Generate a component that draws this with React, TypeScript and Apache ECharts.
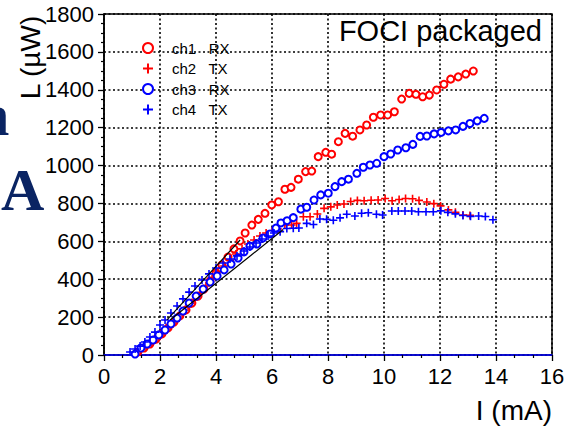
import React, { useEffect, useRef } from "react";
import * as echarts from "echarts";

// ---- data (I in mA, L in µW) ----
const ch1RX: [number, number][] = [
  [1.21, 16], [1.43, 37], [1.64, 58], [1.86, 84], [2.07, 111], [2.29, 143], [2.5, 174], [2.71, 206],
  [2.93, 238], [3.14, 274], [3.36, 311], [3.57, 348], [3.79, 391], [4.0, 433], [4.21, 475], [4.43, 517],
  [4.64, 560], [4.86, 602], [5.04, 644], [5.28, 686], [5.51, 716], [5.75, 748], [5.99, 792], [6.23, 809],
  [6.46, 875], [6.68, 885], [6.94, 928], [7.2, 968], [7.42, 971], [7.65, 1047], [7.92, 1070], [8.13, 1060],
  [8.37, 1126], [8.61, 1170], [8.88, 1155], [9.14, 1188], [9.38, 1214], [9.62, 1255], [9.88, 1267],
  [10.13, 1267], [10.37, 1284], [10.63, 1351], [10.9, 1381], [11.14, 1376], [11.38, 1363], [11.62, 1372],
  [11.88, 1399], [12.14, 1429], [12.38, 1456], [12.65, 1468], [12.92, 1483], [13.19, 1499],
];

const ch2TX: [number, number][] = [
  [1.29, 21], [1.5, 42], [1.71, 63], [1.93, 90], [2.14, 116], [2.36, 148], [2.57, 179], [2.79, 216],
  [3.0, 253], [3.21, 290], [3.43, 327], [3.64, 364], [3.86, 401], [4.07, 438], [4.29, 470], [4.5, 501],
  [4.71, 533], [4.93, 560], [5.14, 586], [5.36, 607], [5.57, 628], [5.79, 644], [6.0, 655], [6.21, 665],
  [6.46, 686], [6.7, 686], [6.88, 695], [7.12, 730], [7.36, 730], [7.62, 744], [7.86, 774], [8.1, 782],
  [8.33, 792], [8.57, 797], [8.81, 810], [9.05, 816], [9.29, 814], [9.54, 817], [9.79, 818], [10.04, 826],
  [10.29, 814], [10.54, 821], [10.77, 826], [11.02, 825], [11.25, 816], [11.53, 808], [11.78, 799],
  [12.02, 787], [12.3, 766], [12.55, 753], [12.82, 739], [13.07, 737],
];

const ch3RX: [number, number][] = [
  [1.11, 5], [1.32, 37], [1.54, 58], [1.75, 79], [1.96, 106], [2.18, 132], [2.39, 164], [2.61, 195],
  [2.82, 232], [3.04, 274], [3.29, 311], [3.54, 348], [3.79, 385], [4.04, 417], [4.29, 449], [4.54, 480],
  [4.79, 512], [5.0, 544], [5.21, 575], [5.46, 586], [5.68, 618], [5.93, 639], [6.14, 670], [6.32, 697],
  [6.54, 709], [6.76, 725], [7.03, 770], [7.24, 780], [7.5, 818], [7.74, 845], [8.01, 854], [8.25, 889],
  [8.49, 915], [8.73, 928], [9.03, 959], [9.26, 991], [9.5, 1003], [9.74, 1012], [10.0, 1047],
  [10.24, 1061], [10.49, 1082], [10.78, 1094], [11.03, 1112], [11.29, 1154], [11.53, 1156], [11.79, 1167],
  [12.04, 1175], [12.3, 1183], [12.56, 1188], [12.82, 1207], [13.07, 1222], [13.33, 1236], [13.58, 1249],
];

const ch4TX: [number, number][] = [
  [0.93, 16], [1.11, 32], [1.29, 47], [1.46, 69], [1.64, 95], [1.82, 121], [2.0, 158], [2.18, 185],
  [2.39, 222], [2.61, 259], [2.82, 296], [3.04, 332], [3.25, 364], [3.5, 396], [3.75, 428], [4.0, 459],
  [4.25, 486], [4.5, 507], [4.75, 523], [5.0, 549], [5.21, 570], [5.43, 591], [5.64, 612], [5.86, 628],
  [6.07, 644], [6.29, 651], [6.53, 668], [6.76, 669], [6.96, 670], [7.24, 695], [7.48, 689], [7.71, 718],
  [7.95, 716], [8.19, 711], [8.43, 724], [8.67, 743], [8.96, 734], [9.2, 748], [9.44, 751], [9.73, 743],
  [9.95, 739], [10.28, 760], [10.51, 760], [10.75, 760], [10.99, 760], [11.23, 756], [11.5, 756],
  [11.76, 756], [12.03, 761], [12.28, 753], [12.55, 745], [12.82, 736], [13.09, 732], [13.38, 734],
  [13.62, 731], [13.89, 714],
];

const fitA: [number, number][] = [[2.25, 185], [4.86, 607]];
const fitB: [number, number][] = [[2.36, 185], [6.4, 662]];

const seriesNames = ["ch1   RX", "ch2   TX", "ch3   RX", "ch4   TX"];
const xTicks = { min: 0, max: 16, interval: 2 };
const yTicks = { min: 0, max: 1800, interval: 200 };

const RED = "#ff0000";
const BLUE = "#0000ff";
const NAVY = "#0a2463";
const FONT = "'Liberation Sans', Arial, Helvetica, sans-serif";
const PLUS = "path://M4,0h2v4h4v2h-4v4h-2v-4h-4v-2h4z";

export default function App() {
  const ref = useRef<HTMLDivElement>(null);
  useEffect(() => {
    if (!ref.current) return;
    const chart = echarts.init(ref.current, undefined, { renderer: "svg" });
    const grid = {
      color: "#000",
      type: [2, 2.5] as number[],
      width: 1.6,
    };
    const circleSeries = (name: string, data: [number, number][], color: string) => ({
      name,
      type: "scatter",
      data,
      symbol: "emptyCircle",
      symbolSize: 7,
      itemStyle: { color, borderColor: color, borderWidth: 1.5, opacity: 1 },
      z: 3,
    });
    const plusSeries = (name: string, data: [number, number][], color: string) => ({
      name,
      type: "scatter",
      data,
      symbol: PLUS,
      symbolSize: 8,
      itemStyle: { color, opacity: 1 },
      z: 3,
    });
    const fitSeries = (data: [number, number][]) => ({
      type: "line",
      data,
      showSymbol: false,
      symbol: "none",
      lineStyle: { color: "#000", width: 1.2 },
      z: 5,
      silent: true,
    });
    const plain = (v: number) => String(v);
    chart.setOption({
      animation: false,
      backgroundColor: "#fff",
      textStyle: { fontFamily: FONT },
      grid: {
        left: 104,
        right: 20,
        top: 14,
        bottom: 75,
        show: true,
        borderColor: "#000",
        borderWidth: 1.5,
        backgroundColor: "transparent",
      },
      legend: {
        data: seriesNames,
        orient: "vertical",
        left: 137,
        top: 35,
        itemWidth: 38,
        itemHeight: 10,
        itemGap: 4.5,
        textStyle: { fontSize: 15, color: "#000", fontFamily: FONT, lineHeight: 16 },
        selectedMode: false,
      },
      xAxis: {
        type: "value",
        ...xTicks,
        axisLine: { show: true, onZero: false, lineStyle: { color: BLUE, width: 1.5 } },
        axisTick: { show: true, inside: false, length: 6, lineStyle: { color: "#000", width: 1.3 } },
        minorTick: { show: true, splitNumber: 3, length: 3, lineStyle: { color: "#000", width: 1.2 } },
        axisLabel: { fontSize: 22, color: "#000", margin: 10, fontFamily: FONT, showMaxLabel: true, showMinLabel: true, formatter: plain },
        splitLine: { show: true, lineStyle: grid },
      },
      yAxis: {
        type: "value",
        ...yTicks,
        axisLine: { show: true, onZero: false, lineStyle: { color: "#000", width: 1.5 } },
        axisTick: { show: true, inside: false, length: 6, lineStyle: { color: "#000", width: 1.3 } },
        minorTick: { show: true, splitNumber: 4, length: 3, lineStyle: { color: "#000", width: 1.2 } },
        axisLabel: { fontSize: 22, color: "#000", margin: 10, fontFamily: FONT, showMaxLabel: true, showMinLabel: true, formatter: plain },
        splitLine: { show: true, lineStyle: grid },
      },
      series: [
        circleSeries(seriesNames[0], ch1RX, RED),
        plusSeries(seriesNames[1], ch2TX, RED),
        circleSeries(seriesNames[2], ch3RX, BLUE),
        plusSeries(seriesNames[3], ch4TX, BLUE),
        fitSeries(fitA),
        fitSeries(fitB),
      ],
      graphic: [
        {
          type: "text",
          x: 542,
          y: 30.5,
          style: { text: "FOCI packaged", fontSize: 29, fontFamily: FONT, fill: "#000", align: "right", verticalAlign: "middle" },
          z: 10,
        },
        {
          type: "text",
          x: 30,
          y: 57.5,
          rotation: Math.PI / 2,
          style: { text: "L (µW)", fontSize: 28, fontFamily: FONT, fill: "#000", align: "center", verticalAlign: "middle" },
        },
        {
          type: "text",
          x: 552,
          y: 410,
          style: { text: "I (mA)", fontSize: 28, fontFamily: FONT, fill: "#000", align: "right", verticalAlign: "middle" },
        },
        {
          type: "text",
          x: 1,
          y: 190,
          style: { text: "A", fontSize: 60, fontWeight: "bold", fontFamily: "'Liberation Serif', 'Times New Roman', serif", fill: NAVY, align: "left", verticalAlign: "middle" },
        },
        {
          type: "text",
          x: -24,
          y: 115,
          style: { text: "n", fontSize: 60, fontWeight: "bold", fontFamily: "'Liberation Serif', 'Times New Roman', serif", fill: NAVY, align: "left", verticalAlign: "middle" },
        },
      ],
    });
    return () => chart.dispose();
  }, []);
  return (
    <div
      ref={ref}
      style={{ position: "fixed", left: 0, top: 0, width: 572, height: 430, background: "#fff" }}
    />
  );
}
